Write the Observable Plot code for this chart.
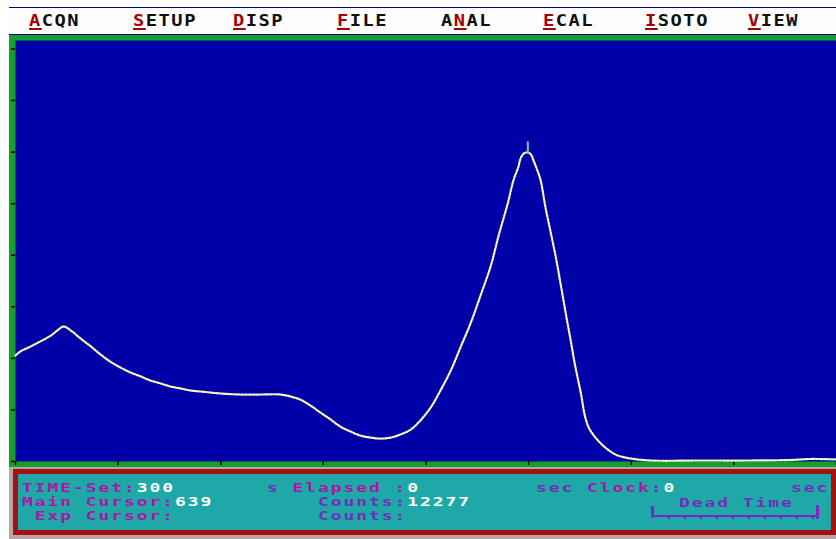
<!DOCTYPE html>
<html><head><meta charset="utf-8">
<script src="https://cdn.jsdelivr.net/npm/d3@7"></script>
<script src="https://cdn.jsdelivr.net/npm/@observablehq/plot@0.6"></script>
<style>
html,body{margin:0;padding:0;background:#fff;width:836px;height:539px;overflow:hidden}
body{position:relative}
.t{position:absolute;font-family:"DejaVu Sans Mono",monospace;font-weight:bold;font-size:12px;line-height:10px;height:10px;letter-spacing:1.27px;transform:scaleX(1.5);transform-origin:0 0;white-space:pre}
.mt{font-size:15px;letter-spacing:1.2px;transform:scaleX(1.25)}
.k{color:#a80000;text-decoration:underline;text-decoration-thickness:2px;text-underline-offset:2px}
#menu{position:absolute;left:9px;top:7px;width:827px;height:26px;border-top:1px solid #000080;border-bottom:2px solid #000080;background:#fdfdfd}
#chart{position:absolute;left:9px;top:35px}
#panelbg{position:absolute;left:9px;top:467px;width:827px;height:72px;background:#b0a8a8}
#panel{position:absolute;left:13px;top:469px;width:813px;height:56px;border:5px solid #a81010;background:#1ea8a8}
.m{color:#a818a8}.u{color:#7030b8}.w{color:#ffffff}
.g{position:absolute;background:#7a28c0}
</style></head><body>
<div id="menu"></div>
<div id="chart"></div>
<div id="panelbg"></div>
<div id="panel"></div>
<div id="texts"></div>
<script>
// Spectrum: channel and counts
const channels = [0,6,19,31,44,52,60,69,81,94,106,118,131,143,156,168,181,193,206,218,231,243,256,281,306,331,343,355,368,380,393,405,418,430,443,455,468,480,493,505,518,530,543,555,568,580,593,602,609,614,621,627,630,634,639,643,646,650,655,661,667,674,680,687,692,698,705,711,717,730,742,751,767,792,854,917,967,992,1024];
const counts = [4210,4370,4570,4770,5000,5200,5360,5200,4890,4570,4250,3970,3730,3540,3380,3220,3100,2980,2900,2820,2780,2740,2700,2660,2660,2660,2580,2460,2220,1950,1670,1390,1190,1030,950,910,950,1070,1270,1630,2150,2820,3620,4530,5520,6590,7790,8900,9690,10250,11160,11680,12040,12230,12277,12190,11960,11640,11160,10090,9180,8100,7030,5760,4890,3810,2740,1710,1230,720,400,240,120,40,40,40,60,100,80];
const xTicks = [0,128,256,384,512,640,768,896,1024];
const yTicks = [0,2048,4096,6144,8192,10240,12288,14336,16384];
const cursorChannel = 639;
const cursorCounts = 12277;
const menuItems = ["ACQN","SETUP","DISP","FILE","ANAL","ECAL","ISOTO","VIEW"];
const menuKeyIndex = [0,0,0,0,1,0,0,0];
const menuX = [29,133,233,337,441,543,645,748];

const data = channels.map((c,i)=>({ch:c, counts:counts[i]}));

const chart = Plot.plot({
  width: 827, height: 432,
  marginLeft: 6, marginTop: 5, marginRight: 0, marginBottom: 6,
  style: {background: "#14a02c", overflow: "hidden"},
  x: {domain: [0,1024], axis: null},
  y: {domain: [0,16720], axis: null},
  marks: [
    Plot.frame({fill: "#0000a8", stroke: null}),
    Plot.axisX(xTicks, {anchor: "bottom", tickSize: 4, tickFormat: () => "", label: null, stroke: "#000", strokeWidth: 1.5}),
    Plot.axisY(yTicks, {anchor: "left", tickSize: 4, tickFormat: () => "", label: null, stroke: "#000", strokeWidth: 1.5}),
    Plot.line(data, {x: "ch", y: "counts", stroke: "#f6f6c0", strokeWidth: 2.2, strokeDasharray: "2 1.6", curve: "catmull-rom"}),
    Plot.ruleX([{ch: cursorChannel, counts: cursorCounts}], {x: "ch", y1: d => d.counts - 40, y2: d => d.counts + 420, stroke: "#5cd0c0", strokeWidth: 2})
  ]
});
document.getElementById("chart").appendChild(chart);

const T = document.getElementById("texts");
function txt(x, base, html, cls){
  const s = document.createElement("div");
  s.className = "t" + (cls ? " " + cls : "");
  s.style.left = x + "px";
  const fs = cls ? 15 : 12, lh = 10;
  s.style.top = (base - ((lh - fs*1.164)/2 + fs*0.928)) + "px";
  s.innerHTML = html;
  T.appendChild(s);
}
menuItems.forEach((m,i)=>{
  const k = menuKeyIndex[i];
  const html = '<span style="color:#101010">' + m.slice(0,k) + '</span><span class="k">' + m[k] + '</span><span style="color:#101010">' + m.slice(k+1) + '</span>';
  txt(menuX[i], 26.5, html, "mt");
});
txt(22, 492, '<span class="m">TIME-Set:</span><span class="w">300</span>');
txt(267, 492, '<span class="u">s </span><span class="m">Elapsed :</span><span class="w">0</span>');
txt(536, 492, '<span class="u">sec </span><span class="m">Clock:</span><span class="w">0</span>');
txt(791, 492, '<span class="u">sec</span>');
txt(22, 506, '<span class="m">Main Cursor:</span><span class="w">639</span>');
txt(318, 506, '<span class="u">Counts:</span><span class="w">12277</span>');
txt(679, 507.5, '<span class="u">Dead Time</span>');
txt(22, 520, '<span class="m"> Exp Cursor:</span>');
txt(318, 520, '<span class="u">Counts:</span>');

// dead time gauge (decoration)
function box(l,t,w,h){const d=document.createElement("div");d.className="g";d.style.left=l+"px";d.style.top=t+"px";d.style.width=w+"px";d.style.height=h+"px";T.appendChild(d);}
box(651,506,3,12);
box(816,505,3,14);
box(654,515,162,1.5);
for(let i=0;i<10;i++) box(668+i*16,515,1.5,3.5);
</script>
</body></html>
